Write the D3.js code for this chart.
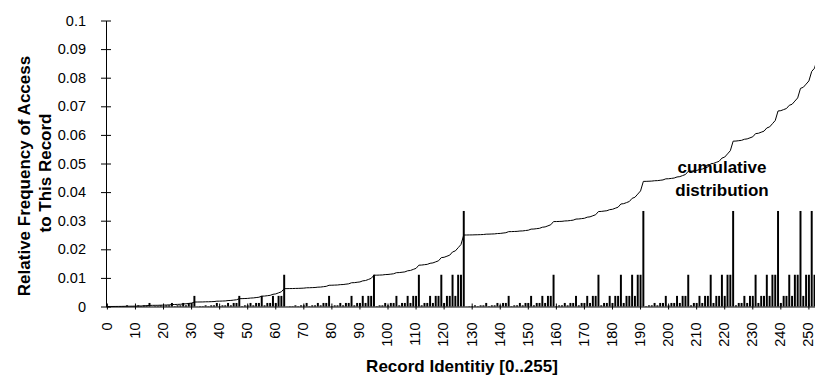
<!DOCTYPE html>
<html>
<head>
<meta charset="utf-8">
<script src="https://cdn.jsdelivr.net/npm/d3@7"></script>
<style>
  body { margin: 0; background: #fff; }
  svg { display: block; font-family: "Liberation Sans", Arial, sans-serif; }
</style>
</head>
<body>
<svg id="chart" width="815" height="378"></svg>
<script>
// record ids 0..255
var records = d3.range(256);

// relative access frequency of each record
var frequency = [
  1.53e-5,4.58e-5,4.58e-5,1.37e-4,4.58e-5,1.37e-4,1.37e-4,4.12e-4,4.58e-5,1.37e-4,1.37e-4,4.12e-4,1.37e-4,4.12e-4,4.12e-4,1.24e-3,
  4.58e-5,1.37e-4,1.37e-4,4.12e-4,1.37e-4,4.12e-4,4.12e-4,1.24e-3,1.37e-4,4.12e-4,4.12e-4,1.24e-3,4.12e-4,1.24e-3,1.24e-3,3.71e-3,
  4.58e-5,1.37e-4,1.37e-4,4.12e-4,1.37e-4,4.12e-4,4.12e-4,1.24e-3,1.37e-4,4.12e-4,4.12e-4,1.24e-3,4.12e-4,1.24e-3,1.24e-3,3.71e-3,
  1.37e-4,4.12e-4,4.12e-4,1.24e-3,4.12e-4,1.24e-3,1.24e-3,3.71e-3,4.12e-4,1.24e-3,1.24e-3,3.71e-3,1.24e-3,3.71e-3,3.71e-3,0.0111,
  4.58e-5,1.37e-4,1.37e-4,4.12e-4,1.37e-4,4.12e-4,4.12e-4,1.24e-3,1.37e-4,4.12e-4,4.12e-4,1.24e-3,4.12e-4,1.24e-3,1.24e-3,3.71e-3,
  1.37e-4,4.12e-4,4.12e-4,1.24e-3,4.12e-4,1.24e-3,1.24e-3,3.71e-3,4.12e-4,1.24e-3,1.24e-3,3.71e-3,1.24e-3,3.71e-3,3.71e-3,0.0111,
  1.37e-4,4.12e-4,4.12e-4,1.24e-3,4.12e-4,1.24e-3,1.24e-3,3.71e-3,4.12e-4,1.24e-3,1.24e-3,3.71e-3,1.24e-3,3.71e-3,3.71e-3,0.0111,
  4.12e-4,1.24e-3,1.24e-3,3.71e-3,1.24e-3,3.71e-3,3.71e-3,0.0111,1.24e-3,3.71e-3,3.71e-3,0.0111,3.71e-3,0.0111,0.0111,0.0334,
  4.58e-5,1.37e-4,1.37e-4,4.12e-4,1.37e-4,4.12e-4,4.12e-4,1.24e-3,1.37e-4,4.12e-4,4.12e-4,1.24e-3,4.12e-4,1.24e-3,1.24e-3,3.71e-3,
  1.37e-4,4.12e-4,4.12e-4,1.24e-3,4.12e-4,1.24e-3,1.24e-3,3.71e-3,4.12e-4,1.24e-3,1.24e-3,3.71e-3,1.24e-3,3.71e-3,3.71e-3,0.0111,
  1.37e-4,4.12e-4,4.12e-4,1.24e-3,4.12e-4,1.24e-3,1.24e-3,3.71e-3,4.12e-4,1.24e-3,1.24e-3,3.71e-3,1.24e-3,3.71e-3,3.71e-3,0.0111,
  4.12e-4,1.24e-3,1.24e-3,3.71e-3,1.24e-3,3.71e-3,3.71e-3,0.0111,1.24e-3,3.71e-3,3.71e-3,0.0111,3.71e-3,0.0111,0.0111,0.0334,
  1.37e-4,4.12e-4,4.12e-4,1.24e-3,4.12e-4,1.24e-3,1.24e-3,3.71e-3,4.12e-4,1.24e-3,1.24e-3,3.71e-3,1.24e-3,3.71e-3,3.71e-3,0.0111,
  4.12e-4,1.24e-3,1.24e-3,3.71e-3,1.24e-3,3.71e-3,3.71e-3,0.0111,1.24e-3,3.71e-3,3.71e-3,0.0111,3.71e-3,0.0111,0.0111,0.0334,
  4.12e-4,1.24e-3,1.24e-3,3.71e-3,1.24e-3,3.71e-3,3.71e-3,0.0111,1.24e-3,3.71e-3,3.71e-3,0.0111,3.71e-3,0.0111,0.0111,0.0334,
  1.24e-3,3.71e-3,3.71e-3,0.0111,3.71e-3,0.0111,0.0111,0.0334,3.71e-3,0.0111,0.0111,0.0334,0.0111,0.0334,0.0334,0.1001
];

// cumulative distribution curve, as plotted (1/10 scale)
var cumulative = [
  0.00000,0.00001,0.00001,0.00002,0.00003,0.00004,0.00006,0.00010,0.00010,0.00012,0.00013,0.00017,0.00018,0.00023,0.00027,0.00039,
  0.00040,0.00041,0.00042,0.00046,0.00048,0.00052,0.00056,0.00068,0.00070,0.00074,0.00078,0.00090,0.00094,0.00107,0.00119,0.00156,
  0.00157,0.00158,0.00159,0.00164,0.00165,0.00169,0.00173,0.00186,0.00187,0.00191,0.00195,0.00208,0.00212,0.00224,0.00236,0.00273,
  0.00275,0.00279,0.00283,0.00295,0.00300,0.00312,0.00324,0.00361,0.00365,0.00378,0.00390,0.00427,0.00440,0.00477,0.00514,0.00625,
  0.00625,0.00627,0.00628,0.00632,0.00634,0.00638,0.00642,0.00654,0.00656,0.00660,0.00664,0.00676,0.00680,0.00693,0.00705,0.00742,
  0.00744,0.00748,0.00752,0.00764,0.00768,0.00781,0.00793,0.00830,0.00834,0.00847,0.00859,0.00896,0.00908,0.00945,0.00983,0.01094,
  0.01095,0.01099,0.01103,0.01116,0.01120,0.01132,0.01145,0.01182,0.01186,0.01198,0.01210,0.01248,0.01260,0.01297,0.01334,0.01445,
  0.01449,0.01462,0.01474,0.01511,0.01524,0.01561,0.01598,0.01709,0.01721,0.01758,0.01796,0.01907,0.01944,0.02055,0.02166,0.02500,
  0.02500,0.02502,0.02503,0.02507,0.02509,0.02513,0.02517,0.02529,0.02531,0.02535,0.02539,0.02551,0.02555,0.02568,0.02580,0.02617,
  0.02619,0.02623,0.02627,0.02639,0.02643,0.02656,0.02668,0.02705,0.02709,0.02722,0.02734,0.02771,0.02783,0.02820,0.02858,0.02969,
  0.02970,0.02974,0.02978,0.02991,0.02995,0.03007,0.03020,0.03057,0.03061,0.03073,0.03085,0.03123,0.03135,0.03172,0.03209,0.03320,
  0.03324,0.03337,0.03349,0.03386,0.03399,0.03436,0.03473,0.03584,0.03596,0.03633,0.03671,0.03782,0.03819,0.03930,0.04041,0.04375,
  0.04376,0.04380,0.04385,0.04397,0.04401,0.04413,0.04426,0.04463,0.04467,0.04479,0.04492,0.04529,0.04541,0.04578,0.04615,0.04727,
  0.04731,0.04743,0.04755,0.04792,0.04805,0.04842,0.04879,0.04990,0.05003,0.05040,0.05077,0.05188,0.05225,0.05336,0.05448,0.05781,
  0.05785,0.05798,0.05810,0.05847,0.05860,0.05897,0.05934,0.06045,0.06057,0.06094,0.06131,0.06243,0.06280,0.06391,0.06502,0.06836,
  0.06848,0.06885,0.06922,0.07034,0.07071,0.07182,0.07293,0.07627,0.07664,0.07775,0.07887,0.08220,0.08331,0.08665,0.08999,0.10000
];

var xTickValues = [0,10,20,30,40,50,60,70,80,90,100,110,120,130,140,150,160,170,180,190,200,210,220,230,240,250];
var yTickValues = [0,0.01,0.02,0.03,0.04,0.05,0.06,0.07,0.08,0.09,0.1];
var yTickLabels = ["0","0.01","0.02","0.03","0.04","0.05","0.06","0.07","0.08","0.09","0.1"];

var svg = d3.select("#chart");

// plot area (chart is cut off on the right, like the source image)
var left = 106, step = 2.806,
    right = left + records.length * step,
    y0 = 306.5, yTop = 20.5;

var x = d3.scaleBand()
    .domain(records)
    .range([left, right])
    .padding(0);

var y = d3.scaleLinear()
    .domain([0, 0.1])
    .range([y0, yTop]);

var barW = x.bandwidth() * 0.7;

// bars
svg.append("g")
  .selectAll("rect")
  .data(records)
  .enter().append("rect")
    .attr("x", function(d) { return x(d) + (x.bandwidth() - barW) / 2; })
    .attr("width", barW)
    .attr("y", function(d) { return y(frequency[d]); })
    .attr("height", function(d) { return y0 - y(frequency[d]); })
    .attr("fill", "#000");

// cumulative line
var line = d3.line()
    .x(function(d) { return x(d) + x.bandwidth() / 2; })
    .y(function(d) { return y(cumulative[d]); });

svg.append("path")
    .datum(records)
    .attr("d", line)
    .attr("fill", "none")
    .attr("stroke", "#000")
    .attr("stroke-width", 1);

// y axis
var yAxis = svg.append("g")
    .attr("transform", "translate(" + left + ",0)")
    .call(d3.axisLeft(y)
      .tickValues(yTickValues)
      .tickFormat(function(d, i) { return yTickLabels[i]; })
      .tickSizeOuter(0)
      .tickPadding(14));
yAxis.select(".domain").attr("stroke", "#000");
yAxis.selectAll(".tick line").attr("x1", -5).attr("x2", 5).attr("stroke", "#000");
yAxis.selectAll(".tick text")
    .attr("font-size", "14.5px")
    .attr("font-family", "Liberation Sans, Arial, sans-serif")
    .attr("fill", "#000");

// x axis
var xAxis = svg.append("g")
    .attr("transform", "translate(0," + y0 + ")")
    .call(d3.axisBottom(x)
      .tickValues(xTickValues)
      .tickSizeOuter(0));
xAxis.select(".domain").attr("stroke", "#000");
xAxis.selectAll(".tick line").attr("y1", -3).attr("y2", 3).attr("stroke", "#000");
xAxis.selectAll(".tick text")
    .attr("font-size", "14.5px")
    .attr("font-family", "Liberation Sans, Arial, sans-serif")
    .attr("fill", "#000")
    .attr("transform", "rotate(-90)")
    .attr("x", -16)
    .attr("y", 0)
    .attr("dy", "0.3em")
    .style("text-anchor", "end");

// titles
svg.append("text")
    .attr("x", 462)
    .attr("y", 372)
    .attr("text-anchor", "middle")
    .attr("font-size", "17px")
    .attr("font-weight", "bold")
    .text("Record Identitiy [0..255]");

var yTitle = svg.append("g")
    .attr("transform", "translate(0,176) rotate(-90)");
yTitle.append("text")
    .attr("x", 0).attr("y", 30)
    .attr("text-anchor", "middle")
    .attr("font-size", "17px")
    .attr("font-weight", "bold")
    .text("Relative Frequency of Access");
yTitle.append("text")
    .attr("x", 3).attr("y", 51)
    .attr("text-anchor", "middle")
    .attr("font-size", "17px")
    .attr("font-weight", "bold")
    .text("to This Record");

// curve label
var note = svg.append("text")
    .attr("text-anchor", "middle")
    .attr("font-size", "17px")
    .attr("font-weight", "bold");
note.append("tspan").attr("x", 722).attr("y", 172.5).text("cumulative");
note.append("tspan").attr("x", 722).attr("y", 195.5).text("distribution");
</script>
</body>
</html>
